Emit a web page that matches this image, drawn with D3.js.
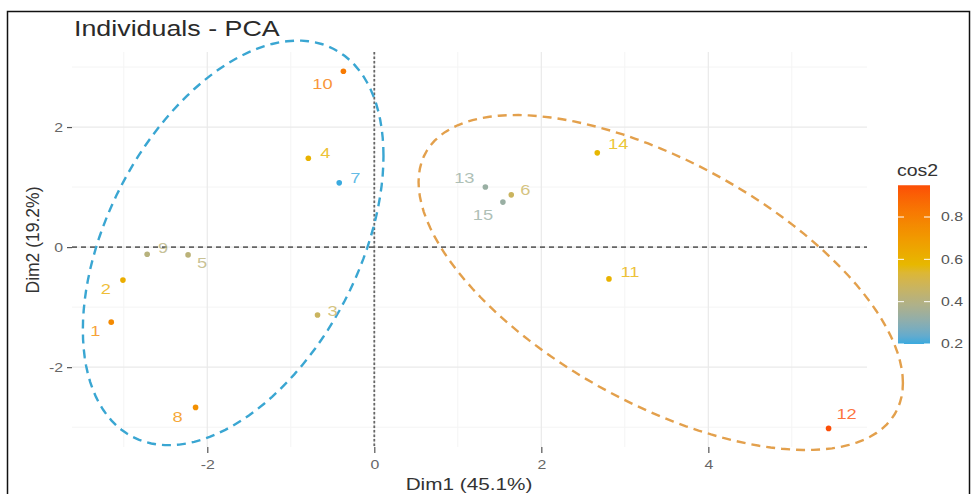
<!DOCTYPE html>
<html><head><meta charset="utf-8">
<script src="https://cdn.jsdelivr.net/npm/d3@7"></script>
<style>body{margin:0;background:#fff;} svg{display:block;font-family:"Liberation Sans",Arial,sans-serif;}</style>
</head><body><svg id="c" width="976" height="494"></svg>
<script>
// ---- data ----
const names = ["1","2","3","4","5","6","7","8","9","10","11","12","13","14","15"];
const dim1  = [-3.15,-3.01,-0.68,-0.79,-2.23,1.64,-0.42,-2.14,-2.72,-0.37,2.81,5.44,1.33,2.67,1.54];
const dim2  = [-1.25,-0.55,-1.13,1.48,-0.13,0.87,1.07,-2.67,-0.12,2.93,-0.53,-3.02,1.00,1.57,0.75];
const cos2  = [0.76,0.62,0.47,0.60,0.42,0.47,0.20,0.74,0.41,0.82,0.60,0.95,0.33,0.58,0.33];
// ellipse parameters: centre, spread on each axis, correlation
const ellCx  = [-1.69, 3.43];
const ellCy  = [0.07, -0.59];
const ellSx  = [1.80, 2.90];
const ellSy  = [3.37, 2.79];
const ellRho = [0.43, -0.60];
const xTicks = [-2,0,2,4];
const yTicks = [-2,0,2];
const legendTicks = [0.2,0.4,0.6,0.8];
const titleText = "Individuals - PCA";
const xTitle = "Dim1 (45.1%)";
const yTitle = "Dim2 (19.2%)";
const legendTitle = "cos2";

// ---- layout (not data) ----
const SX = 1.22; // horizontal stretch of the reference image
const P = {l:72, r:867, t:52, b:447};
const labelNudge = { "1":[-16,9],"2":[-17,9],"3":[15,-4],"4":[17,-5],"5":[14,8],"6":[14,-5],"7":[16,-5],
  "8":[-18,10],"9":[16,-6],"10":[-21,13],"11":[21,-7],"12":[18,-14],"13":[-21,-9],"14":[21,-9],"15":[-20,13]};

const svg = d3.select("#c");
const x = d3.scaleLinear().domain([-3.62,5.90]).range([P.l,P.r]);
const y = d3.scaleLinear().domain([-3.33,3.25]).range([P.b,P.t]);
const cmin = d3.min(cos2), cmax = d3.max(cos2);
const color = d3.scaleLinear().domain([cmin,(cmin+cmax)/2,cmax])
  .range(["#3AAADF","#E7B800","#FC4E07"]).interpolate(d3.interpolateLab);

function stext(parent, px, py, str, size, fill, anchor, baseline){
  return parent.append("text").attr("transform",`translate(${px},${py}) scale(${SX},1)`)
    .attr("text-anchor",anchor||"start").attr("dominant-baseline",baseline||"auto")
    .attr("font-size",size).attr("fill",fill).text(str);
}

// frame
svg.append("rect").attr("x",7.5).attr("y",11.5).attr("width",962).attr("height",500)
  .attr("fill","none").attr("stroke","#111").attr("stroke-width",1.5);

// grid
const minorX = d3.range(-3,6,2), minorY = d3.range(-3,4,2);
const g = svg.append("g");
g.selectAll(".mx").data(minorX).join("line").attr("x1",d=>x(d)).attr("x2",d=>x(d)).attr("y1",P.t).attr("y2",P.b).attr("stroke","#F4F4F4").attr("stroke-width",1);
g.selectAll(".my").data(minorY).join("line").attr("y1",d=>y(d)).attr("y2",d=>y(d)).attr("x1",P.l).attr("x2",P.r).attr("stroke","#F4F4F4").attr("stroke-width",1);
g.selectAll(".Mx").data(xTicks).join("line").attr("x1",d=>x(d)).attr("x2",d=>x(d)).attr("y1",P.t).attr("y2",P.b).attr("stroke","#EAEAEA").attr("stroke-width",1.2);
g.selectAll(".My").data(yTicks).join("line").attr("y1",d=>y(d)).attr("y2",d=>y(d)).attr("x1",P.l).attr("x2",P.r).attr("stroke","#EAEAEA").attr("stroke-width",1.2);

// axes
const fmt = d=>d<0?"-"+Math.abs(d):String(d);
const xAxis = d3.axisBottom(x).tickValues(xTicks).tickSize(6).tickFormat(fmt);
const yAxis = d3.axisLeft(y).tickValues(yTicks).tickSize(5).tickFormat(fmt);
const ax = svg.append("g").attr("transform",`translate(0,${P.b})`).call(xAxis);
const ay = svg.append("g").attr("transform",`translate(${P.l},0)`).call(yAxis);
[ax,ay].forEach(a=>{a.select(".domain").remove();
  a.selectAll(".tick line").attr("stroke","#555").attr("stroke-width",1.2);});
ax.selectAll(".tick text").attr("x",null).attr("y",null).attr("dy",null)
  .attr("transform",`translate(0,18) scale(${SX},1)`).attr("dominant-baseline","central")
  .attr("fill","#666").attr("font-size",13).attr("font-family","Liberation Sans, Arial, sans-serif");
ay.selectAll(".tick text").attr("x",null).attr("dy",null)
  .attr("transform",`translate(-9,0) scale(${SX},1)`).attr("dominant-baseline","central")
  .attr("fill","#666").attr("font-size",13).attr("font-family","Liberation Sans, Arial, sans-serif");

// reference lines
svg.append("line").attr("x1",P.l).attr("x2",P.r).attr("y1",y(0)).attr("y2",y(0))
  .attr("stroke","#666").attr("stroke-width",1.8).attr("stroke-dasharray","5,4");
svg.append("line").attr("x1",x(0)).attr("x2",x(0)).attr("y1",P.t).attr("y2",P.b)
  .attr("stroke","#666").attr("stroke-width",1.8).attr("stroke-dasharray","2.5,2");

// ellipses
const ellColors = ["#3AA6D2","#E3A04C"];
const ts = d3.range(0,361,3).map(a=>a*Math.PI/180);
const line = d3.line().x(d=>x(d[0])).y(d=>y(d[1])).curve(d3.curveLinearClosed);
ellCx.forEach((cx,i)=>{
  const pts = ts.map(t=>[cx+ellSx[i]*Math.cos(t),
    ellCy[i]+ellSy[i]*(ellRho[i]*Math.cos(t)+Math.sqrt(1-ellRho[i]*ellRho[i])*Math.sin(t))]);
  svg.append("path").attr("d",line(pts)).attr("fill","none").attr("stroke",ellColors[i])
    .attr("stroke-width",2.4).attr("stroke-dasharray","9,6");
});

// points + labels
const data = names.map((n,i)=>({n,x:dim1[i],y:dim2[i],c:cos2[i]}));
svg.selectAll(".pt").data(data).join("circle").attr("cx",d=>x(d.x)).attr("cy",d=>y(d.y))
  .attr("r",2.8).attr("fill",d=>color(d.c));
data.forEach(d=>{
  stext(svg, x(d.x)+labelNudge[d.n][0], y(d.y)+labelNudge[d.n][1], d.n, 15, color(d.c), "middle", "central")
    .attr("fill-opacity",0.8);
});

// titles
stext(svg, 74, 36, titleText, 22, "#2a2a2a");
stext(svg, 469, 490, xTitle, 17, "#333", "middle");
svg.append("text").attr("transform",`translate(39,240) rotate(-90)`).attr("text-anchor","middle")
  .attr("font-size",17.5).attr("fill","#333").text(yTitle);

// legend
const ly = d3.scaleLinear().domain([0.2,0.8]).range([344,217]);
const defs = svg.append("defs");
const grad = defs.append("linearGradient").attr("id","lg").attr("x1",0).attr("x2",0).attr("y1",1).attr("y2",0);
d3.range(0,1.0001,0.05).forEach(f=>{const v=cmin+f*(cmax-cmin);
  grad.append("stop").attr("offset",f).attr("stop-color",color(v));});
const bx=898, bw=32;
svg.append("rect").attr("x",bx).attr("y",ly(cmax)).attr("width",bw).attr("height",ly(cmin)-ly(cmax)).attr("fill","url(#lg)");
legendTicks.forEach(d=>{
  svg.append("line").attr("x1",bx).attr("x2",bx+6).attr("y1",ly(d)).attr("y2",ly(d)).attr("stroke","#fff").attr("stroke-width",1);
  svg.append("line").attr("x1",bx+bw-6).attr("x2",bx+bw).attr("y1",ly(d)).attr("y2",ly(d)).attr("stroke","#fff").attr("stroke-width",1);
  stext(svg, bx+bw+11, ly(d), d3.format(".1f")(d), 13, "#555", "start", "central");
});
stext(svg, bx-1, 176, legendTitle, 16, "#333");
</script></body></html>
